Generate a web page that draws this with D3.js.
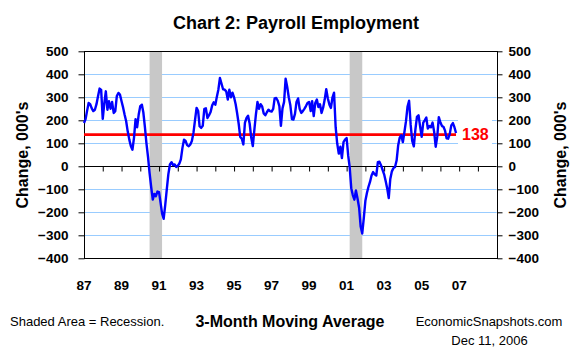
<!DOCTYPE html>
<html>
<head>
<meta charset="utf-8">
<script src="https://cdn.jsdelivr.net/npm/d3@7"></script>
<style>
  body { margin: 0; background: #fff; }
  svg { display: block; }
  text { font-family: "Liberation Sans", Arial, Helvetica, sans-serif; }
</style>
</head>
<body>
<svg id="chart" width="580" height="350"></svg>
<script>
// Monthly series starts January 1987
const firstYear = 1987;
const firstMonthIndex = 0;

// Payroll employment, change in thousands, 3-month moving average (Jan 1987 - Nov 2006)
const monthlyChange = [
  // 1987
  188, 205, 240, 275, 270, 252, 240, 246, 270, 305, 338, 332,
  // 1988
  206, 275, 326, 246, 283, 250, 280, 232, 240, 305, 319, 312,
  // 1989
  283, 255, 225, 196, 152, 116, 88, 72, 125, 205, 170, 225,
  // 1990
  262, 268, 235, 170, 100, 40, -30, -90, -145, -120, -130, -110,
  // 1991
  -112, -160, -205, -228, -170, -100, -35, 8, 18, 5, 8, -3,
  // 1992
  2, 12, 30, 80, 116, 110, 92, 87, 95, 110, 145, 200,
  // 1993
  254, 240, 174, 167, 176, 250, 252, 210, 222, 236, 265, 278,
  // 1994
  268, 304, 333, 384, 360, 335, 333, 326, 290, 333, 300, 320,
  // 1995
  300, 270, 232, 185, 128, 120, 95, 190, 210, 220, 185, 125,
  // 1996
  88, 160, 225, 280, 250, 270, 260, 230, 222, 235, 246, 240,
  // 1997
  238, 250, 295, 297, 285, 262, 176, 252, 280, 381, 345, 300,
  // 1998
  265, 205, 203, 228, 280, 295, 250, 232, 240, 250, 262, 275,
  // 1999
  280, 240, 283, 218, 275, 290, 258, 270, 232, 255, 290, 335,
  // 2000
  295, 268, 254, 300, 320, 170, 100, 55, 85, 36, 105, 116,
  // 2001
  123, 45, -3, -95, -125, -145, -105, -140, -180, -262, -292, -225,
  // 2002
  -150, -115, -90, -68, -40, -25, -35, -40, 18, 20, 5, -15,
  // 2003
  -35, -65, -95, -138, -55, -22, -8, -3, 25, 90, 125, 135,
  // 2004
  105, 150, 195, 260, 285, 180, 110, 87, 160, 215, 222, 175,
  // 2005
  128, 190, 200, 212, 164, 175, 170, 190, 150, 85, 130, 214,
  // 2006
  190, 175, 172, 155, 122, 120, 140, 178, 188, 170, 145
];

// Recession periods (shaded)
const recessionStarts = ["1990-07-01", "2001-03-01"];
const recessionEnds   = ["1991-03-01", "2001-11-01"];

// Axis ticks
const yTickValues = [-400, -300, -200, -100, 0, 100, 200, 300, 400, 500];
const gridValues = [-300, -200, -100, 100, 200, 300, 400];
const xTickYears = [1988, 1989, 1990, 1991, 1992, 1993, 1994, 1995, 1996, 1997, 1998,
                    1999, 2000, 2001, 2002, 2003, 2004, 2005, 2006, 2007, 2008];
const xLabelYears = [1987, 1989, 1991, 1993, 1995, 1997, 1999, 2001, 2003, 2005, 2007];
const xLabelText  = ["87", "89", "91", "93", "95", "97", "99", "01", "03", "05", "07"];

// Reference level drawn across the series
const referenceLevel = 138;

// ---- layout ----
const plot = { left: 84, right: 496.7, top: 51.3, bottom: 258.3 };
const svg = d3.select("#chart");

svg.append("rect").attr("width", 580).attr("height", 350).attr("fill", "#fff");

const x = d3.scaleTime()
  .domain([new Date(1987, 0, 1), new Date(2009, 0, 1)])
  .range([plot.left, plot.right]);

const y = d3.scaleLinear()
  .domain([-400, 500])
  .range([plot.bottom, plot.top]);

const series = monthlyChange.map((v, i) => ({
  date: new Date(firstYear, firstMonthIndex + i, 1),
  value: v
}));

// Gridlines
svg.append("g")
  .selectAll("line")
  .data(gridValues)
  .join("line")
  .attr("x1", plot.left).attr("x2", plot.right)
  .attr("y1", d => Math.round(y(d)) + 0.5)
  .attr("y2", d => Math.round(y(d)) + 0.5)
  .attr("stroke", "#99ccff")
  .attr("stroke-width", 1);

// Recession shading
const parse = d3.timeParse("%Y-%m-%d");
svg.append("g")
  .selectAll("rect")
  .data(recessionStarts.map((s, i) => [parse(s), parse(recessionEnds[i])]))
  .join("rect")
  .attr("x", d => x(d[0]))
  .attr("width", d => x(d[1]) - x(d[0]))
  .attr("y", plot.top)
  .attr("height", plot.bottom - plot.top)
  .attr("fill", "#c8c8c8");

// Plot frame
svg.append("rect")
  .attr("x", Math.round(plot.left) + 0.5)
  .attr("y", Math.round(plot.top) + 0.5)
  .attr("width", Math.round(plot.right) - Math.round(plot.left))
  .attr("height", Math.round(plot.bottom) - Math.round(plot.top))
  .attr("fill", "none")
  .attr("stroke", "#000")
  .attr("stroke-width", 1);

// Zero line with yearly tick marks
const y0 = Math.round(y(0)) + 0.5;
svg.append("line")
  .attr("x1", plot.left).attr("x2", plot.right)
  .attr("y1", y0).attr("y2", y0)
  .attr("stroke", "#000");

const xAxis = d3.axisBottom(x)
  .tickValues(xTickYears.map(yr => new Date(yr, 0, 1)))
  .tickSize(5)
  .tickSizeOuter(0)
  .tickFormat("");
const gx = svg.append("g").attr("transform", `translate(0,${y0})`).call(xAxis);
gx.select(".domain").remove();
gx.selectAll(".tick line").attr("stroke", "#000");

// Year labels
svg.append("g")
  .selectAll("text")
  .data(xLabelYears)
  .join("text")
  .attr("x", d => x(new Date(d, 0, 1)))
  .attr("y", 290)
  .attr("text-anchor", "middle")
  .attr("font-size", "13.5px")
  .attr("font-weight", "bold")
  .text((d, i) => xLabelText[i]);

// Left and right value axes
const leftAxis = d3.axisLeft(y).tickValues(yTickValues).tickSize(6).tickSizeOuter(0).tickPadding(10);
const gl = svg.append("g").attr("transform", `translate(${Math.round(plot.left) + 0.5},0)`).call(leftAxis);
const rightAxis = d3.axisRight(y).tickValues(yTickValues).tickSize(5).tickSizeOuter(0).tickPadding(6);
const gr = svg.append("g").attr("transform", `translate(${Math.round(plot.right) + 0.5},0)`).call(rightAxis);
[gl, gr].forEach(g => {
  g.select(".domain").remove();
  g.selectAll(".tick line").attr("stroke", "#000");
  g.selectAll(".tick text")
    .attr("fill", "#000")
    .attr("font-size", "13.5px")
    .attr("font-weight", "bold")
    .attr("font-family", "'Liberation Sans', Arial, sans-serif");
});

// Reference level line
const last = series[series.length - 1];
svg.append("line")
  .attr("x1", x(series[0].date)).attr("x2", x(last.date))
  .attr("y1", y(referenceLevel)).attr("y2", y(referenceLevel))
  .attr("stroke", "#ff0000")
  .attr("stroke-width", 2.8);

// Series line
svg.append("path")
  .datum(series)
  .attr("fill", "none")
  .attr("stroke", "#0000ff")
  .attr("stroke-width", 2.4)
  .attr("stroke-linejoin", "round")
  .attr("d", d3.line().x(d => x(d.date)).y(d => y(d.value)));

// Reference level label on a white box
svg.append("rect")
  .attr("x", x(last.date) + 2).attr("y", y(referenceLevel) - 15)
  .attr("width", 34).attr("height", 30)
  .attr("fill", "#fff");
svg.append("text")
  .attr("x", x(last.date) + 6)
  .attr("y", y(referenceLevel) + 5.8)
  .attr("fill", "#ff0000")
  .attr("font-size", "16px")
  .attr("font-weight", "bold")
  .text(referenceLevel);

// Titles
svg.append("text")
  .attr("x", 296).attr("y", 29)
  .attr("text-anchor", "middle")
  .attr("font-size", "18px").attr("font-weight", "bold")
  .text("Chart 2: Payroll Employment");

[22, 560].forEach(cx => {
  svg.append("text")
    .attr("transform", `translate(${cx},155) rotate(-90)`)
    .attr("text-anchor", "middle")
    .attr("dy", "0.35em")
    .attr("font-size", "16px").attr("font-weight", "bold")
    .text("Change, 000's");
});

// Footer
svg.append("text")
  .attr("x", 10).attr("y", 326)
  .attr("font-size", "13px")
  .text("Shaded Area = Recession.");
svg.append("text")
  .attr("x", 290).attr("y", 327)
  .attr("text-anchor", "middle")
  .attr("font-size", "16px").attr("font-weight", "bold")
  .text("3-Month Moving Average");
svg.append("text")
  .attr("x", 489).attr("y", 326)
  .attr("text-anchor", "middle")
  .attr("font-size", "13px")
  .text("EconomicSnapshots.com");
svg.append("text")
  .attr("x", 489.5).attr("y", 345)
  .attr("text-anchor", "middle")
  .attr("font-size", "13px")
  .text("Dec 11, 2006");
</script>
</body>
</html>
